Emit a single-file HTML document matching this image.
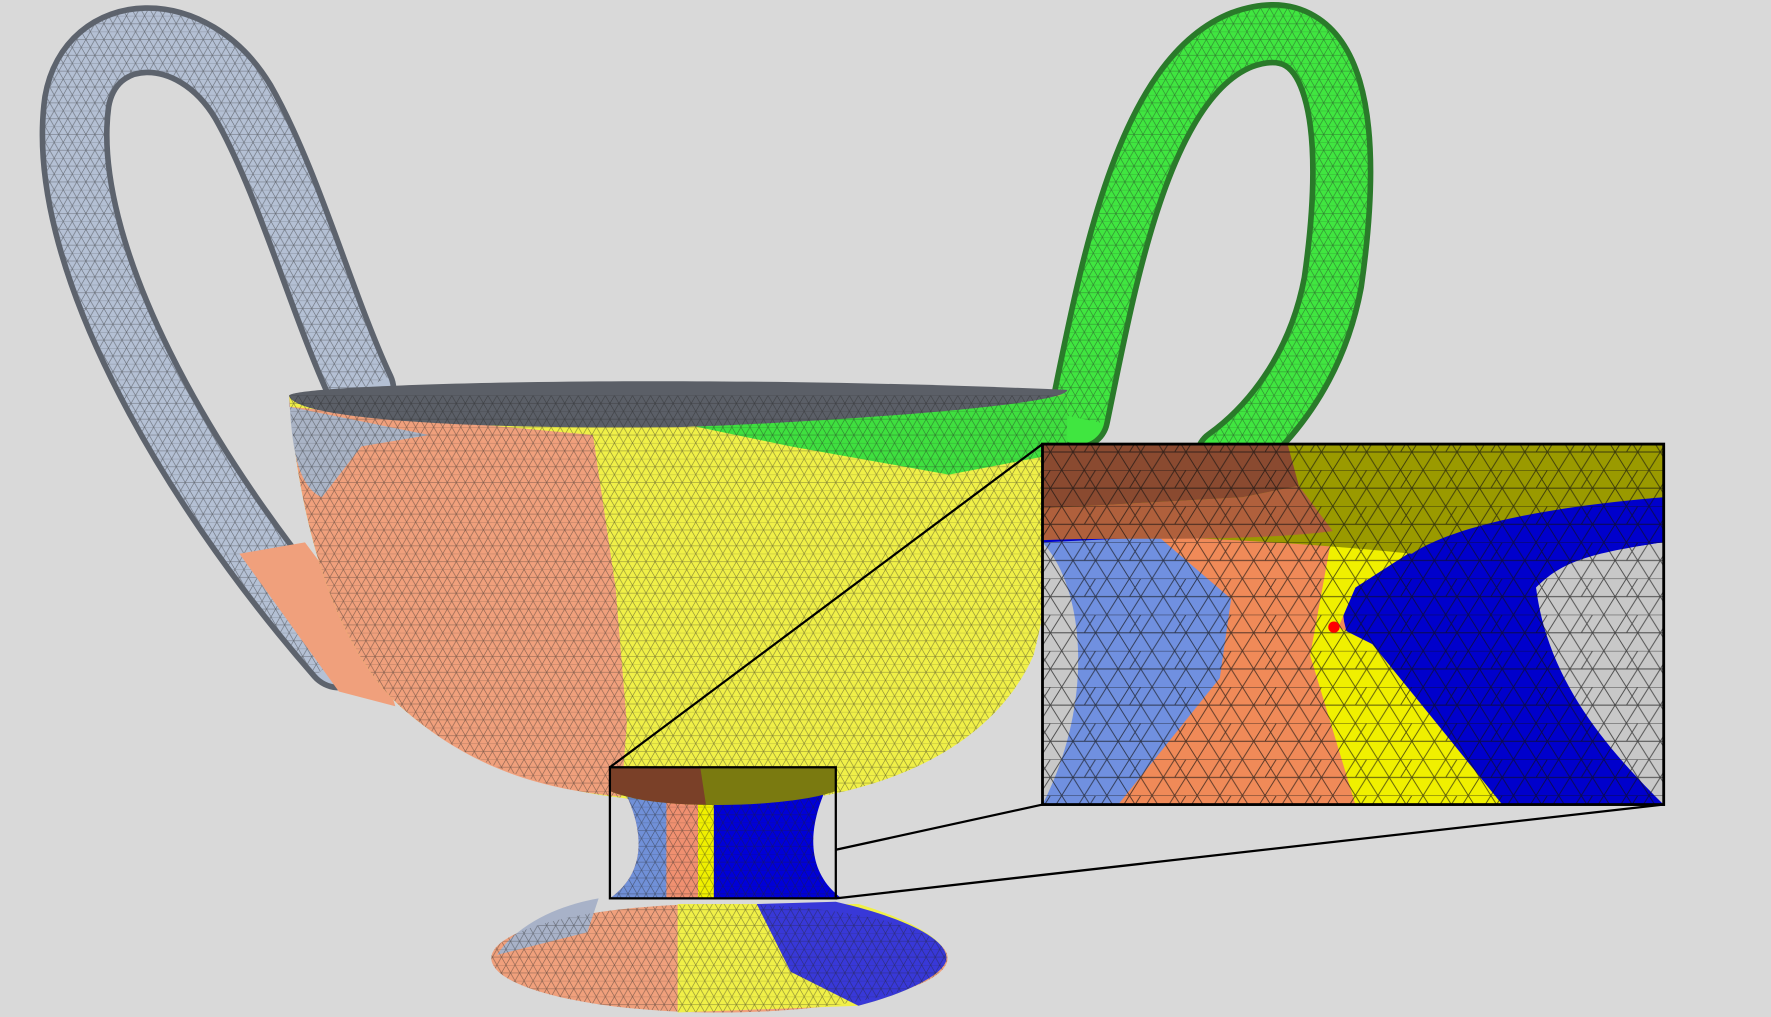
<!DOCTYPE html>
<html><head><meta charset="utf-8"><style>
html,body{margin:0;padding:0;background:#d9d9d9;}
svg{display:block;}
</style></head><body>
<svg width="1771" height="1017" viewBox="0 0 1568 900" preserveAspectRatio="none" xmlns="http://www.w3.org/2000/svg">
<defs>
<pattern id="mesh" width="16" height="14" patternUnits="userSpaceOnUse">
<path d="M0 0 L16 0 M0 7 L16 7 M0 0 L8 14 L16 0 M0 14 L8 0 L16 14" stroke="#222" stroke-width="0.5" fill="none" opacity="0.55"/>
</pattern>
<pattern id="mesh2" width="40" height="32" patternUnits="userSpaceOnUse">
<path d="M0 0 L40 0 M0 16 L40 16 M0 0 L20 32 L40 0 M0 32 L20 0 L40 32 M0 16 L10 0" stroke="#111" stroke-width="0.8" fill="none" opacity="0.7"/>
</pattern>
<clipPath id="insetClip"><rect x="923" y="393" width="550" height="319"/></clipPath>
<clipPath id="stemClip"><path d="M548 690 L735 690 C715 730 712 770 745 795 L540 795 C575 770 570 730 548 690 Z"/></clipPath>
</defs>
<rect width="1568" height="900" fill="#d9d9d9"/>

<g>
<path d="M300 580 C160 420 50 220 68 90 C80 20 170 15 215 90 C255 160 285 270 320 345" stroke="#5d636d" stroke-width="62" fill="none" stroke-linecap="round"/>
<path d="M300 580 C160 420 50 220 68 90 C80 20 170 15 215 90 C255 160 285 270 320 345" stroke="#b4c0d4" stroke-width="52" fill="none" stroke-linecap="round"/>
<path d="M300 580 C160 420 50 220 68 90 C80 20 170 15 215 90 C255 160 285 270 320 345" stroke="url(#mesh)" stroke-width="52" fill="none"/>
<path d="M212 490 L270 480 L330 560 L350 625 L300 612 Z" fill="#f0a07c"/>
</g>
<g>
<path d="M955 370 C980 250 1010 70 1100 35 C1185 5 1200 110 1180 250 C1165 330 1120 380 1085 405" stroke="#2a7a2a" stroke-width="56" fill="none" stroke-linecap="round"/>
<path d="M955 370 C980 250 1010 70 1100 35 C1185 5 1200 110 1180 250 C1165 330 1120 380 1085 405" stroke="#40e640" stroke-width="46" fill="none" stroke-linecap="round"/>
<path d="M955 370 C980 250 1010 70 1100 35 C1185 5 1200 110 1180 250 C1165 330 1120 380 1085 405" stroke="url(#mesh)" stroke-width="46" fill="none"/>
</g>

<g>
<path d="M256 350 C265 470 300 580 360 630 C430 690 520 710 640 712 C780 712 880 660 915 580 C935 500 945 420 945 350 Z" fill="#f0f048"/>
<path d="M256 350 C265 470 300 580 360 630 C430 690 500 700 550 705 L555 640 L545 520 L525 385 L256 360 Z" fill="#f0a07c"/>
<path d="M256 350 C258 390 262 430 285 440 L320 395 L380 385 L256 360 Z" fill="#aab4c6"/>
<path d="M580 370 L700 395 L840 420 L945 400 L945 350 Z" fill="#3fe03f"/>
<path d="M256 350 C260 340 600 330 945 345 C945 360 700 375 600 378 C400 380 260 370 256 350 Z" fill="#5b5f67"/>
<path d="M256 350 C265 470 300 580 360 630 C430 690 520 710 640 712 C780 712 880 660 915 580 C935 500 945 420 945 350 Z" fill="url(#mesh)"/>
</g>

<g>
<ellipse cx="637" cy="848" rx="202" ry="48" fill="#f0a07c"/>
<path d="M600 800 L600 896 L760 890 C800 880 838 862 838 848 C838 830 800 812 760 800 Z" fill="#f0f048"/>
<path d="M670 800 L700 860 L760 890 C800 880 838 862 838 848 C838 830 800 812 740 798 Z" fill="#3838d8"/>
<path d="M440 845 C460 815 500 800 530 795 L520 825 Z" fill="#a8b2c8"/>
<ellipse cx="637" cy="848" rx="202" ry="48" fill="url(#mesh)"/>
<g clip-path="url(#stemClip)">
<rect x="530" y="690" width="90" height="110" fill="#f09070"/>
<rect x="530" y="690" width="60" height="110" fill="#7090d8"/>
<rect x="618" y="690" width="16" height="110" fill="#f0f000"/>
<rect x="632" y="690" width="120" height="110" fill="#0000d8"/>
<rect x="530" y="690" width="220" height="110" fill="url(#mesh)"/>
</g>
<path d="M540 679 L740 679 L740 700 C700 715 580 718 540 700 Z" fill="#7a7a10"/>
<path d="M540 679 L620 679 L625 712 C590 712 560 708 540 700 Z" fill="#7a4028"/>
</g>

<rect x="540" y="679" width="200" height="116" fill="none" stroke="#000" stroke-width="2"/>
<line x1="540" y1="679" x2="923" y2="393" stroke="#000" stroke-width="2"/>
<line x1="740" y1="752" x2="923" y2="712" stroke="#000" stroke-width="2"/>
<line x1="740" y1="795" x2="1473" y2="712" stroke="#000" stroke-width="2"/>

<g clip-path="url(#insetClip)">
<rect x="923" y="393" width="550" height="319" fill="#c8c8c8"/>
<path d="M923 393 L1473 393 L1473 480 C1400 490 1380 500 1360 520 C1370 600 1420 660 1473 712 L923 712 L923 480 Z" fill="#0000cc"/>
<path d="M923 480 L1130 470 L1200 520 L1180 560 L1210 712 L923 712 Z" fill="#7090e0"/>
<path d="M1020 470 L1180 470 L1190 550 L1230 712 L990 712 L1080 600 L1090 530 Z" fill="#f08a58"/>
<path d="M1180 470 L1270 475 L1200 520 L1185 555 L1215 570 L1280 650 L1330 712 L1200 712 L1160 580 Z" fill="#f0f000"/>
<path d="M923 393 L1473 393 L1473 440 C1350 450 1280 470 1250 490 C1150 480 1000 470 923 478 Z" fill="#9a9a00"/>
<path d="M923 393 L1140 393 L1150 430 L1100 440 L923 450 Z" fill="#8a4a30"/>
<path d="M923 450 L1100 440 L1150 430 L1180 470 C1100 480 1000 475 923 478 Z" fill="#b0603c"/>
<path d="M923 712 L923 480 C960 520 970 620 923 712 Z" fill="#c8c8c8"/>
<path d="M1473 480 C1400 490 1370 510 1360 520 C1380 600 1420 660 1473 712 Z" fill="#c8c8c8"/>
<rect x="923" y="393" width="550" height="319" fill="url(#mesh2)"/>
<circle cx="1181" cy="555" r="5" fill="#ff0000"/>
</g>
<rect x="923" y="393" width="550" height="319" fill="none" stroke="#000" stroke-width="2.5"/>
</svg>
</body></html>
